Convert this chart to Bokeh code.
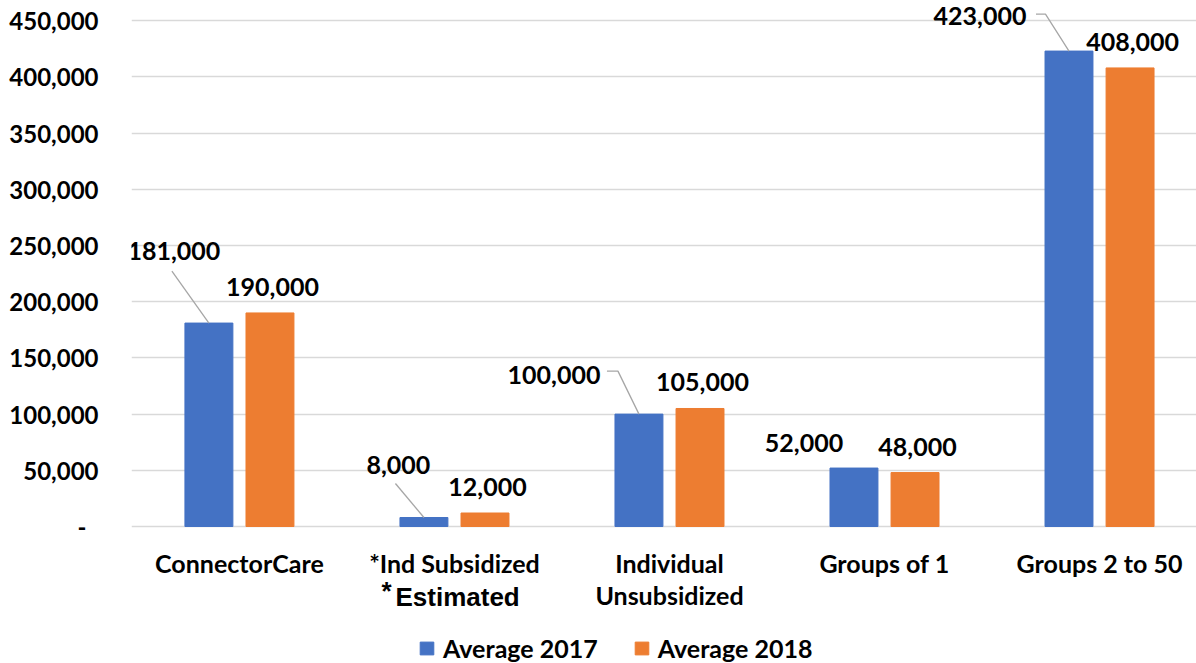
from bokeh.plotting import figure
from bokeh.models import (Range1d, FixedTicker, CustomJSTickFormatter, Legend,
                          LegendItem, Label, ColumnDataSource)
from bokeh.core.properties import value
from bokeh.embed import file_html
from bokeh.resources import INLINE

# ---- data -------------------------------------------------------------
categories = ["ConnectorCare", "*Ind Subsidized", "Individual\nUnsubsidized",
              "Groups of 1", "Groups 2 to 50"]
avg_2017 = [181000, 8000, 100000, 52000, 423000]
avg_2018 = [190000, 12000, 105000, 48000, 408000]
series_names = ["Average 2017", "Average 2018"]
y_ticks = [0, 50000, 100000, 150000, 200000, 250000, 300000, 350000, 400000, 450000]
footnote_mark = "*"
footnote_text = "Estimated"

# ---- styling / layout -------------------------------------------------
BLUE = "#4472C4"
ORANGE = "#ED7D31"
GRID = "#d9d9d9"
LEADER = "#a6a6a6"
FONT = "Lato"
TICK_SIZE = "24px"
TEXT_SIZE = "25px"

W, H = 1196, 663
LEFT = 131
BASE_PX = 526                      # pixel row of the zero line
X_START, X_END = -0.502, 4.451
Y_END = 468000
PX_Y = BASE_PX / Y_END             # pixels per unit of value
Y_START = -(H - BASE_PX) / PX_Y    # room under the bars for labels and legend
PX_X = (W - LEFT) / (X_END - X_START)

BAR_W = 0.223
DODGE = 0.142

# label offsets in pixels from the top centre of each bar: (series, category)
DEFAULT_LABEL_OFFSET = (2.5, -26)
LABEL_OFFSETS = {
    (0, 0): (-35, -72),
    (0, 1): (-25.5, -52.5),
    (0, 2): (-85, -39.5),
    (0, 3): (-50, -25),
    (0, 4): (-89, -35.5),
}
# leader line vertices in pixels from the top centre of the bar
LEADERS = {
    (0, 0): [(-37, -52), (0, 0)],
    (0, 1): [(-28.5, -34), (0, 0)],
    (0, 2): [(-32, -43), (-21, -43), (0, 0)],
    (0, 4): [(-33, -37), (-23.5, -37), (0, 0)],
}

idx = list(range(len(categories)))
x17 = [i - DODGE for i in idx]
x18 = [i + DODGE for i in idx]

p = figure(width=W, height=H,
           x_range=Range1d(X_START, X_END), y_range=Range1d(Y_START, Y_END),
           output_backend="svg", toolbar_location=None,
           min_border_left=LEFT, min_border_right=0,
           min_border_top=0, min_border_bottom=0)
p.outline_line_color = None
p.background_fill_color = "white"
p.border_fill_color = "white"

# bars
r17 = p.vbar(x=x17, top=avg_2017, width=BAR_W, color=BLUE)
r18 = p.vbar(x=x18, top=avg_2018, width=BAR_W, color=ORANGE)

# value labels and leader lines
lab = dict(x=[], y=[], t=[], dx=[], dy=[])
lead_xs, lead_ys = [], []
for s, (xs, vals) in enumerate([(x17, avg_2017), (x18, avg_2018)]):
    for i, (x, v) in enumerate(zip(xs, vals)):
        dx, dy = LABEL_OFFSETS.get((s, i), DEFAULT_LABEL_OFFSET)
        lab["x"].append(x)
        lab["y"].append(v)
        lab["t"].append(f"{v:,}")
        lab["dx"].append(dx)
        lab["dy"].append(dy)
        if (s, i) in LEADERS:
            pts = LEADERS[(s, i)]
            lead_xs.append([x + px / PX_X for px, _ in pts])
            lead_ys.append([v - py / PX_Y for _, py in pts])

p.multi_line(xs=lead_xs, ys=lead_ys, line_color=LEADER, line_width=1.3)
p.text(x="x", y="y", text="t", x_offset="dx", y_offset="dy",
       source=ColumnDataSource(lab),
       text_font=value(FONT), text_font_style="bold", text_font_size=TEXT_SIZE,
       text_align="center", text_baseline="middle", text_color="black")

# axes
p.xgrid.grid_line_color = None
p.ygrid.grid_line_color = GRID
p.ygrid.grid_line_width = 1.5
p.ygrid.ticker = FixedTicker(ticks=y_ticks)

yax = p.yaxis[0]
yax.ticker = FixedTicker(ticks=y_ticks)
yax.formatter = CustomJSTickFormatter(
    code="return tick == 0 ? '-\\u2002' : tick.toLocaleString('en-US');")
yax.axis_line_color = None
yax.major_tick_line_color = None
yax.minor_tick_line_color = None
yax.major_tick_out = 0
yax.major_label_standoff = 33
yax.major_label_text_font = FONT
yax.major_label_text_font_style = "bold"
yax.major_label_text_font_size = TICK_SIZE
yax.major_label_text_color = "black"

xax = p.xaxis[0]
xax.fixed_location = 0
xax.ticker = FixedTicker(ticks=idx)
xax.major_label_overrides = {i: c for i, c in zip(idx, categories)}
xax.axis_line_color = None
xax.major_tick_line_color = None
xax.minor_tick_line_color = None
xax.major_tick_out = 0
xax.major_label_standoff = 21
xax.major_label_text_font = FONT
xax.major_label_text_font_style = "bold"
xax.major_label_text_font_size = TEXT_SIZE
xax.major_label_text_color = "black"
xax.major_label_text_line_height = 1.07

# footnote under the subsidized category
p.add_layout(Label(x=1, y=67, x_units="data", y_units="screen", x_offset=-59,
                   text=footnote_text, text_font="Liberation Sans",
                   text_font_style="bold", text_font_size="26px",
                   text_align="left", text_baseline="alphabetic", text_color="black"))
p.add_layout(Label(x=1, y=73, x_units="data", y_units="screen", x_offset=-73,
                   text=footnote_mark, text_font="Liberation Sans",
                   text_font_style="bold", text_font_size="26px",
                   text_align="left", text_baseline="alphabetic", text_color="black"))

# legend
legend = Legend(items=[LegendItem(label=series_names[0], renderers=[r17]),
                       LegendItem(label=series_names[1], renderers=[r18])],
                orientation="horizontal", location=(287, 0),
                glyph_width=17, glyph_height=16, label_standoff=8, spacing=35,
                padding=0, margin=0, border_line_color=None,
                background_fill_alpha=0,
                label_text_font=FONT, label_text_font_style="bold",
                label_text_font_size=TEXT_SIZE, label_text_color="black")
p.add_layout(legend)

open("out.html", "w").write(file_html(p, INLINE))
